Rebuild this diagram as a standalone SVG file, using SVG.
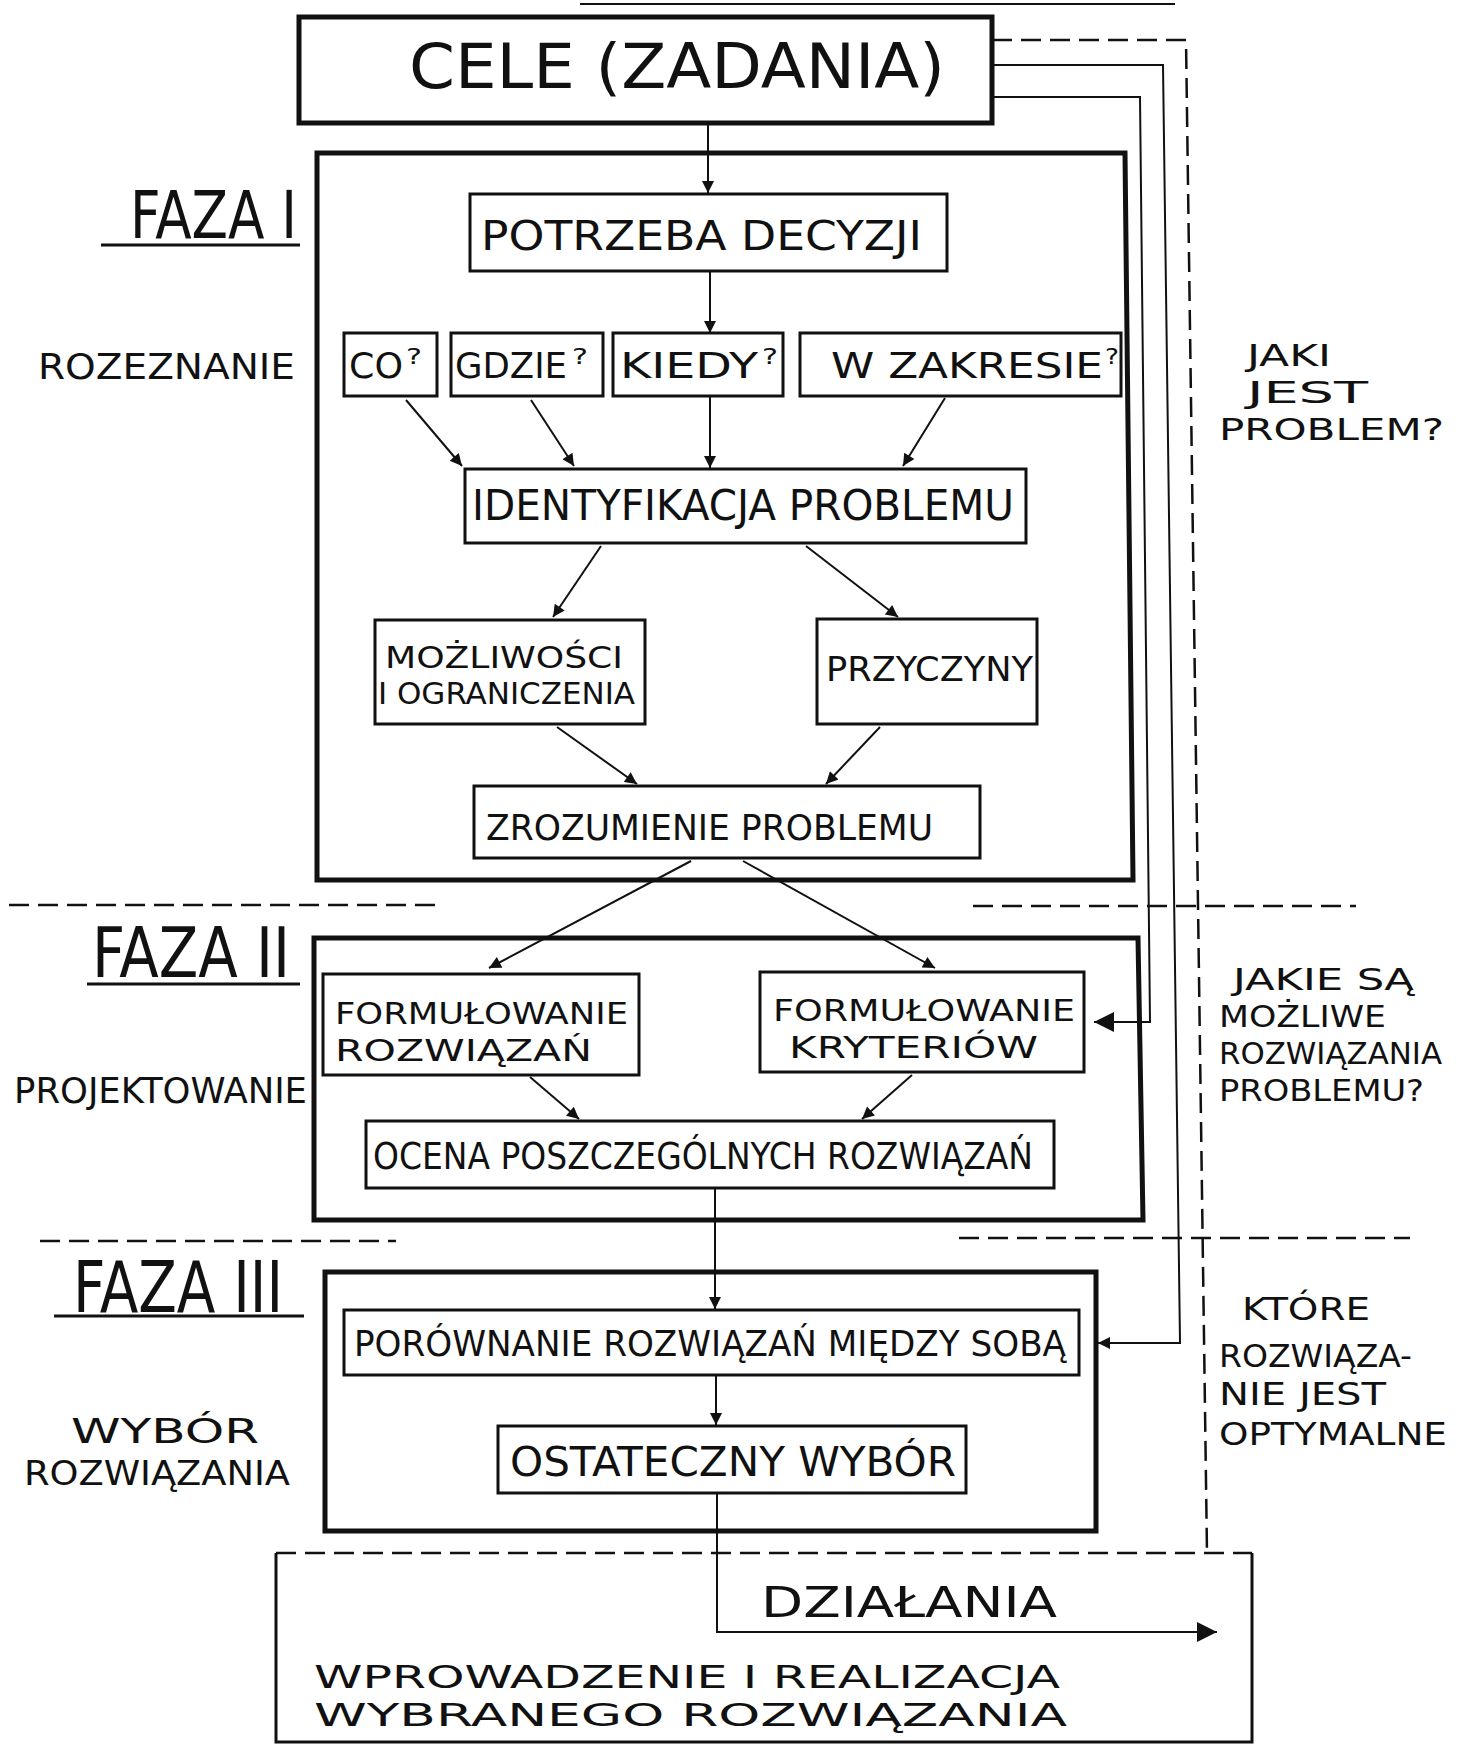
<svg xmlns="http://www.w3.org/2000/svg" width="1469" height="1746" viewBox="0 0 1469 1746">
<style>
.t{font-family:"Liberation Sans Narrow","DejaVu Sans Condensed","Liberation Sans",sans-serif;fill:#111;}
.ph{fill:none;stroke:#111;stroke-width:5;}
.nd{fill:none;stroke:#111;stroke-width:3;}
.c{fill:none;stroke:#111;stroke-width:2;}
.d{fill:none;stroke:#111;stroke-width:2.5;stroke-dasharray:20 9;}
.ul{stroke:#111;stroke-width:3;}
</style>
<defs>
<marker id="ah" viewBox="0 0 10 10" refX="10" refY="5" markerWidth="15" markerHeight="12" markerUnits="userSpaceOnUse" orient="auto"><path d="M0,0 L10,5 L0,10 z" fill="#111"/></marker>
<marker id="ahB" viewBox="0 0 10 10" refX="10" refY="5" markerWidth="22" markerHeight="20" markerUnits="userSpaceOnUse" orient="auto"><path d="M0,0 L10,5 L0,10 z" fill="#111"/></marker>
</defs>
<rect width="1469" height="1746" fill="#fff"/>
<line x1="580" y1="4" x2="1175" y2="4" class="c"/>

<!-- phase labels and side questions -->
<g id="label-faza1">
<text class="t" x="130" y="238" font-size="66" textLength="167" lengthAdjust="spacingAndGlyphs">FAZA I</text>
<line x1="101" y1="245" x2="300" y2="245" class="ul"/>
<text class="t" x="38" y="379" font-size="36" textLength="257" lengthAdjust="spacingAndGlyphs">ROZEZNANIE</text>
</g>
<g id="label-faza2">
<text class="t" x="92" y="977" font-size="70" textLength="198" lengthAdjust="spacingAndGlyphs">FAZA II</text>
<line x1="87" y1="984" x2="300" y2="984" class="ul"/>
<text class="t" x="14" y="1103" font-size="36" textLength="293" lengthAdjust="spacingAndGlyphs">PROJEKTOWANIE</text>
</g>
<g id="label-faza3">
<text class="t" x="73" y="1312" font-size="72" textLength="210" lengthAdjust="spacingAndGlyphs">FAZA III</text>
<line x1="54" y1="1316" x2="304" y2="1316" class="ul"/>
<text class="t" x="71" y="1443" font-size="34" textLength="188" lengthAdjust="spacingAndGlyphs">WYBÓR</text>
<text class="t" x="24" y="1485" font-size="34" textLength="266" lengthAdjust="spacingAndGlyphs">ROZWIĄZANIA</text>
</g>
<g id="q1">
<text class="t" x="1247" y="366" font-size="31" textLength="84" lengthAdjust="spacingAndGlyphs">JAKI</text>
<text class="t" x="1247" y="403" font-size="31" textLength="121" lengthAdjust="spacingAndGlyphs">JEST</text>
<text class="t" x="1219" y="440" font-size="31" textLength="225" lengthAdjust="spacingAndGlyphs">PROBLEM?</text>
</g>
<g id="q2">
<text class="t" x="1233" y="990" font-size="31" textLength="181" lengthAdjust="spacingAndGlyphs">JAKIE SĄ</text>
<text class="t" x="1219" y="1027" font-size="31" textLength="167" lengthAdjust="spacingAndGlyphs">MOŻLIWE</text>
<text class="t" x="1219" y="1064" font-size="31" textLength="223" lengthAdjust="spacingAndGlyphs">ROZWIĄZANIA</text>
<text class="t" x="1219" y="1101" font-size="31" textLength="205" lengthAdjust="spacingAndGlyphs">PROBLEMU?</text>
</g>
<g id="q3">
<text class="t" x="1242" y="1320" font-size="32" textLength="128" lengthAdjust="spacingAndGlyphs">KTÓRE</text>
<text class="t" x="1219" y="1367" font-size="32" textLength="193" lengthAdjust="spacingAndGlyphs">ROZWIĄZA-</text>
<text class="t" x="1219" y="1405" font-size="32" textLength="167" lengthAdjust="spacingAndGlyphs">NIE JEST</text>
<text class="t" x="1219" y="1445" font-size="32" textLength="228" lengthAdjust="spacingAndGlyphs">OPTYMALNE</text>
</g>

<!-- section dividers -->
<g id="dividers">
<path class="d" d="M9 905 H439 M973 906 H1356 M40 1241 H396 M959 1238 H1410"/>
</g>

<!-- phase frames -->
<g id="faza1"><path class="ph" d="M317 153 H1125 L1133 880 H317 Z"/></g>
<g id="faza2"><path class="ph" d="M314 938 H1138 L1143 1220 H314 Z"/></g>
<g id="faza3"><path class="ph" d="M325 1272 H1096 V1531 H325 Z"/></g>

<!-- nodes -->
<g id="cele">
<rect class="ph" x="299" y="17" width="693" height="106"/>
<text class="t" x="409" y="88" font-size="62" textLength="536" lengthAdjust="spacingAndGlyphs">CELE (ZADANIA)</text>
</g>
<g id="potrzeba">
<rect class="nd" x="470" y="194" width="477" height="77"/>
<text class="t" x="481" y="250" font-size="40" textLength="441" lengthAdjust="spacingAndGlyphs">POTRZEBA DECYZJI</text>
</g>
<g id="co">
<rect class="nd" x="344" y="333" width="93" height="63"/>
<text class="t" x="349" y="378" font-size="36" textLength="54" lengthAdjust="spacingAndGlyphs">CO</text>
<text class="t" x="406" y="364" font-size="22" textLength="16" lengthAdjust="spacingAndGlyphs">?</text>
</g>
<g id="gdzie">
<rect class="nd" x="451" y="333" width="152" height="63"/>
<text class="t" x="455" y="378" font-size="36" textLength="112" lengthAdjust="spacingAndGlyphs">GDZIE</text>
<text class="t" x="572" y="364" font-size="22" textLength="16" lengthAdjust="spacingAndGlyphs">?</text>
</g>
<g id="kiedy">
<rect class="nd" x="613" y="333" width="170" height="63"/>
<text class="t" x="620" y="378" font-size="36" textLength="138" lengthAdjust="spacingAndGlyphs">KIEDY</text>
<text class="t" x="762" y="364" font-size="22" textLength="16" lengthAdjust="spacingAndGlyphs">?</text>
</g>
<g id="wzakresie">
<rect class="nd" x="800" y="333" width="321" height="63"/>
<text class="t" x="831" y="378" font-size="36" textLength="272" lengthAdjust="spacingAndGlyphs">W ZAKRESIE</text>
<text class="t" x="1105" y="364" font-size="22" textLength="14" lengthAdjust="spacingAndGlyphs">?</text>
</g>
<g id="identyfikacja">
<rect class="nd" x="465" y="469" width="561" height="74"/>
<text class="t" x="472" y="520" font-size="42" textLength="542" lengthAdjust="spacingAndGlyphs">IDENTYFIKACJA PROBLEMU</text>
</g>
<g id="mozliwosci">
<rect class="nd" x="375" y="620" width="270" height="104"/>
<text class="t" x="385" y="668" font-size="31" textLength="238" lengthAdjust="spacingAndGlyphs">MOŻLIWOŚCI</text>
<text class="t" x="378" y="704" font-size="31" textLength="257" lengthAdjust="spacingAndGlyphs">I OGRANICZENIA</text>
</g>
<g id="przyczyny">
<rect class="nd" x="817" y="619" width="220" height="105"/>
<text class="t" x="826" y="681" font-size="34" textLength="207" lengthAdjust="spacingAndGlyphs">PRZYCZYNY</text>
</g>
<g id="zrozumienie">
<rect class="nd" x="474" y="786" width="506" height="72"/>
<text class="t" x="486" y="840" font-size="36" textLength="447" lengthAdjust="spacingAndGlyphs">ZROZUMIENIE PROBLEMU</text>
</g>
<g id="form-rozwiazan">
<rect class="nd" x="323" y="974" width="316" height="101"/>
<text class="t" x="335" y="1024" font-size="31" textLength="293" lengthAdjust="spacingAndGlyphs">FORMUŁOWANIE</text>
<text class="t" x="335" y="1061" font-size="31" textLength="257" lengthAdjust="spacingAndGlyphs">ROZWIĄZAŃ</text>
</g>
<g id="form-kryteriow">
<rect class="nd" x="760" y="972" width="324" height="100"/>
<text class="t" x="773" y="1021" font-size="31" textLength="302" lengthAdjust="spacingAndGlyphs">FORMUŁOWANIE</text>
<text class="t" x="789" y="1058" font-size="31" textLength="249" lengthAdjust="spacingAndGlyphs">KRYTERIÓW</text>
</g>
<g id="ocena">
<rect class="nd" x="366" y="1121" width="688" height="67"/>
<text class="t" x="373" y="1169" font-size="38" textLength="660" lengthAdjust="spacingAndGlyphs">OCENA POSZCZEGÓLNYCH ROZWIĄZAŃ</text>
</g>
<g id="porownanie">
<rect class="nd" x="344" y="1310" width="735" height="65"/>
<text class="t" x="354" y="1356" font-size="36" textLength="712" lengthAdjust="spacingAndGlyphs">PORÓWNANIE ROZWIĄZAŃ MIĘDZY SOBĄ</text>
</g>
<g id="ostateczny">
<rect class="nd" x="498" y="1426" width="468" height="67"/>
<text class="t" x="510" y="1476" font-size="40" textLength="446" lengthAdjust="spacingAndGlyphs">OSTATECZNY WYBÓR</text>
</g>
<g id="dzialania">
<path class="nd" d="M276 1553 V1742 H1252 V1553"/>
<path class="d" d="M276 1553 H1252"/>
<text class="t" x="761" y="1617" font-size="42" textLength="296" lengthAdjust="spacingAndGlyphs">DZIAŁANIA</text>
<text class="t" x="314" y="1688" font-size="32" textLength="746" lengthAdjust="spacingAndGlyphs">WPROWADZENIE I REALIZACJA</text>
<text class="t" x="314" y="1726" font-size="32" textLength="753" lengthAdjust="spacingAndGlyphs">WYBRANEGO ROZWIĄZANIA</text>
</g>

<!-- connectors -->
<g id="connectors">
<path class="c" d="M708 123 V193" marker-end="url(#ah)"/>
<path class="c" d="M710 271 V333" marker-end="url(#ah)"/>
<path class="c" d="M406 400 L462 466" marker-end="url(#ah)"/>
<path class="c" d="M531 400 L574 466" marker-end="url(#ah)"/>
<path class="c" d="M710 397 V468" marker-end="url(#ah)"/>
<path class="c" d="M945 398 L903 466" marker-end="url(#ah)"/>
<path class="c" d="M601 546 L553 617" marker-end="url(#ah)"/>
<path class="c" d="M806 546 L898 617" marker-end="url(#ah)"/>
<path class="c" d="M557 727 L637 784" marker-end="url(#ah)"/>
<path class="c" d="M880 727 L826 784" marker-end="url(#ah)"/>
<path class="c" d="M691 861 L489 968" marker-end="url(#ah)"/>
<path class="c" d="M743 861 L935 968" marker-end="url(#ah)"/>
<path class="c" d="M530 1077 L579 1119" marker-end="url(#ah)"/>
<path class="c" d="M912 1075 L862 1119" marker-end="url(#ah)"/>
<path class="c" d="M715 1188 V1309" marker-end="url(#ah)"/>
<path class="c" d="M716 1375 V1425" marker-end="url(#ah)"/>
<path class="c" d="M717 1493 V1632 H1217" marker-end="url(#ahB)"/>
<path class="c" d="M992 97 H1140 L1150 1022 H1094" marker-end="url(#ahB)"/>
<path class="c" d="M992 65 H1163 L1180 1343 H1098" marker-end="url(#ah)"/>
<path class="d" d="M992 40 H1186 L1207 1553"/>
</g>
</svg>
